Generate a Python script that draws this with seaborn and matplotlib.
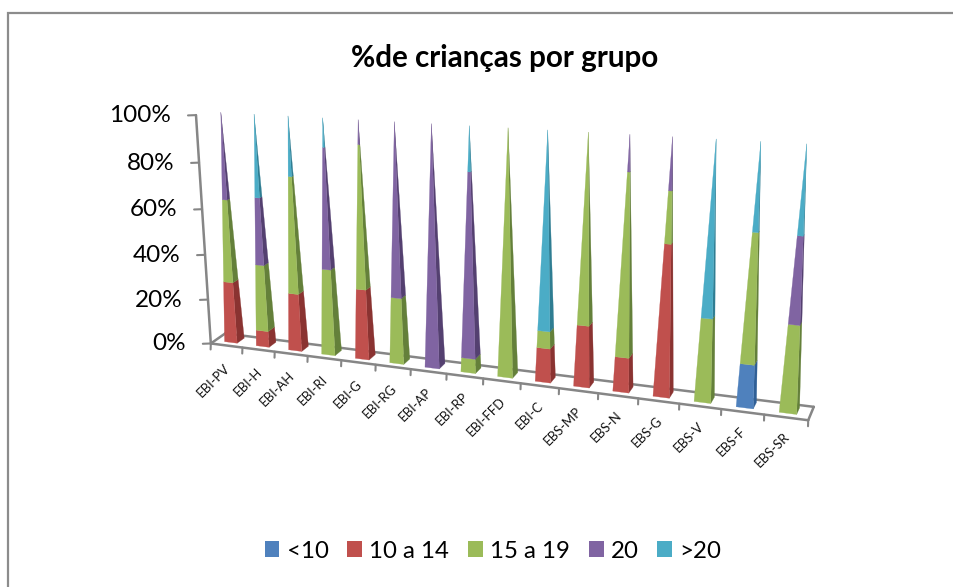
import numpy as np
import pandas as pd
import seaborn as sns
import matplotlib
matplotlib.use("Agg")
import matplotlib.pyplot as plt
from matplotlib.patches import Patch

# ---- data (percent of children per group) ----
categories = ["EBI-PV", "EBI-H", "EBI-AH", "EBI-RI", "EBI-G", "EBI-RG", "EBI-AP", "EBI-RP",
              "EBI-FFD", "EBI-C", "EBS-MP", "EBS-N", "EBS-G", "EBS-V", "EBS-F", "EBS-SR"]
under_10 = [0, 0, 0, 0, 0, 0, 0, 0, 0, 0, 0, 0, 0, 0, 17, 0]
from_10_to_14 = [27, 7, 25, 0, 30, 0, 0, 0, 0, 14, 25, 14, 60, 0, 0, 0]
from_15_to_19 = [36, 29, 50, 37, 60, 28, 0, 6, 100, 7, 75, 72, 20, 33, 50, 34]
exactly_20 = [37, 29, 0, 51, 10, 72, 100, 76, 0, 0, 0, 14, 20, 0, 0, 33]
over_20 = [0, 35, 25, 12, 0, 0, 0, 18, 0, 79, 0, 0, 0, 67, 33, 33]
series_names = ["<10", "10 a 14", "15 a 19", "20", ">20"]
y_ticks = [0, 20, 40, 60, 80, 100]
title = "%de crianças por grupo"

W, H = 954, 587
sns.set_theme(style="white")
plt.rcParams["font.family"] = ["Lato", "DejaVu Sans"]

front_colors = sns.color_palette(["#4F81BD", "#C0504D", "#9BBB59", "#8064A2", "#4BACC6"])
side_colors = sns.color_palette(["#2F5F96", "#8A3331", "#64803A", "#544070", "#2F7D92"])

table = pd.DataFrame(
    dict(zip(series_names, [under_10, from_10_to_14, from_15_to_19, exactly_20, over_20])),
    index=categories,
)

# ---- camera: 3D chart box (category, percent, depth) -> figure pixels ----
n = len(categories)
box = [((0, 0, 0), (211, 342)), ((n, 0, 0), (808, 422)), ((0, 0, 1), (225, 335)),
       ((n, 0, 1), (814, 405)), ((0, 100, 0), (196, 115)), ((n, 100, 0), (827, 150))]
A, b = [], []
for (X, Y, Z), (u, v) in box:
    A.append([X, Y, Z, 1, 0, 0, 0, 0, -u * X, -u * Y, -u * Z])
    A.append([0, 0, 0, 0, X, Y, Z, 1, -v * X, -v * Y, -v * Z])
    b += [u, v]
P = np.append(np.linalg.lstsq(np.array(A, float), np.array(b, float), rcond=None)[0], 1).reshape(3, 4)


def project(X, Y, Z):
    q = P @ np.array([X, Y, Z, 1.0])
    return q[0] / q[2], q[1] / q[2]


fig = plt.figure(figsize=(W / 100, H / 100), dpi=100, facecolor="white")
ax = fig.add_axes([0, 0, 1, 1])
ax.set_xlim(0, W)
ax.set_ylim(H, 0)
ax.axis("off")

AXIS = "#868686"
# outer frame
ax.plot([8, 8, W], [H, 13, 13], color="#8C8C8C", lw=1.6, solid_joinstyle="miter")


def line(p, q, lw=1.8):
    ax.plot([p[0], q[0]], [p[1], q[1]], color=AXIS, lw=lw, solid_capstyle="round", zorder=1)


# floor edges and axes
line(project(0, 0, 0), project(n, 0, 0))
line(project(0, 0, 1), project(n, 0, 1))
line(project(0, 0, 0), project(0, 0, 1))
line(project(n, 0, 0), project(n, 0, 1))
line(project(0, 0, 0), project(0, 100, 0))
for t in y_ticks:
    x, y = project(0, t, 0)
    line((x, y), (x - 8, y + 0.3), lw=1.5)
    ax.text(x - 25, y + 0.5, f"{t}%", ha="right", va="center", fontsize=17.5, color="black")
for i in range(n + 1):
    x, y = project(i, 0, 0)
    line((x, y), (x - 0.2, y + 6), lw=1.5)
for i, name in enumerate(categories):
    x, y = project(i + 0.5, 0, 0)
    f = i / (n - 1)
    ax.text(x - 3, y + 16 - 3 * f, name, rotation=45, ha="right", va="top",
            rotation_mode="anchor", fontsize=9.4, color="#111111")

# pyramids
half_w, z_front, z_back = 0.2, 0.3, 0.8
z_mid = (z_front + z_back) / 2


def corners(i, pct, side):
    s = 1 - pct / 100
    cx = i + 0.5
    zf = z_mid + (z_front - z_mid) * s
    zb = z_mid + (z_back - z_mid) * s
    if side == "front":
        return [(cx - half_w * s, pct, zf), (cx + half_w * s, pct, zf)]
    return [(cx + half_w * s, pct, zf), (cx + half_w * s, pct, zb)]


for i, name in enumerate(categories):
    bottom = 0
    for k, series in enumerate(series_names):
        v = table.loc[name, series]
        if v <= 0:
            continue
        top = bottom + v
        for side, col in (("side", side_colors[k]), ("front", front_colors[k])):
            lo = corners(i, bottom, side)
            hi = corners(i, top, side)
            pts = [project(*p) for p in (lo[0], lo[1], hi[1], hi[0])]
            ax.fill(*zip(*pts), facecolor=col, edgecolor=col, lw=0.2, zorder=3)
        bottom = top

# title and legend
ax.text(505, 58, title, ha="center", va="center", fontsize=21.3, fontweight="bold", color="black")
handles = [Patch(facecolor=front_colors[k], edgecolor="none", label=s) for k, s in enumerate(series_names)]
ax.legend(handles=handles, loc="center", bbox_to_anchor=(493 / W, 1 - 551 / H), ncol=5, frameon=False,
          fontsize=17.3, handlelength=0.62, handleheight=0.62, handletextpad=0.3, columnspacing=0.78,
          labelcolor="black")

fig.savefig("out.png", dpi=100, facecolor="white")
